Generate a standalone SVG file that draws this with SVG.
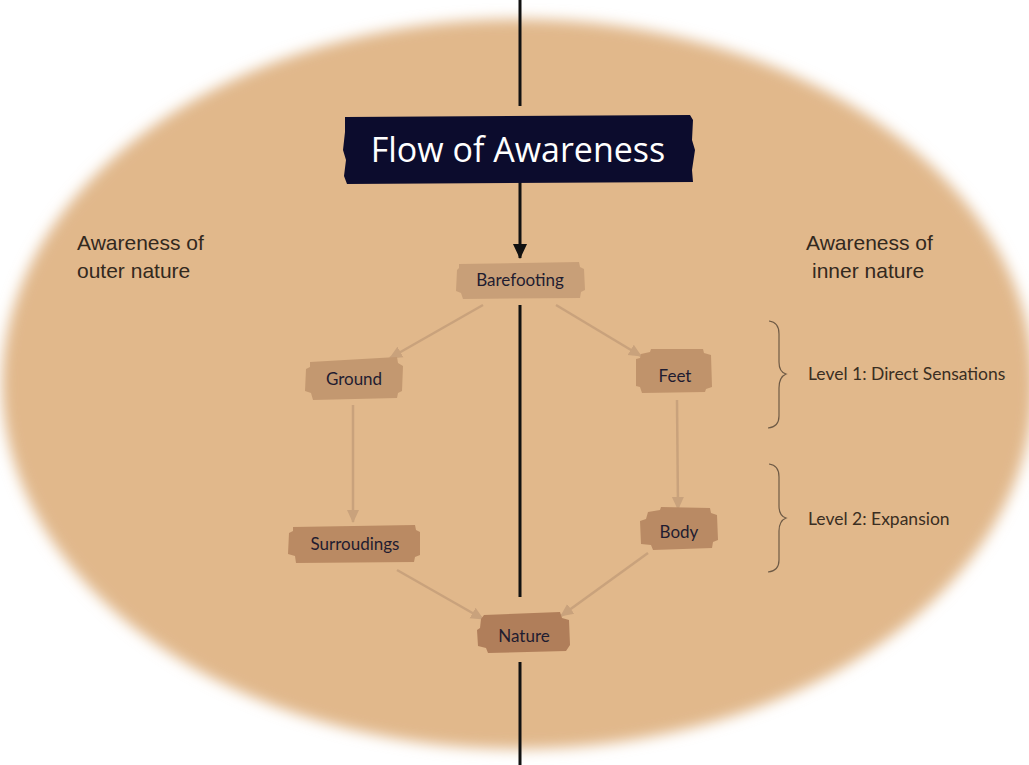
<svg xmlns="http://www.w3.org/2000/svg" width="1029" height="765" viewBox="0 0 1029 765">
<defs>
<filter id="soft" x="-5%" y="-5%" width="110%" height="110%"><feGaussianBlur stdDeviation="7"/></filter>
<marker id="ah" markerUnits="userSpaceOnUse" markerWidth="14" markerHeight="14" refX="12" refY="7" orient="auto"><path d="M0,1 L13,7 L0,13 Z" fill="#C9A27C"/></marker>
<marker id="ahk" markerUnits="userSpaceOnUse" markerWidth="16" markerHeight="16" refX="14" refY="8" orient="auto"><path d="M0,1 L15,8 L0,15 Z" fill="#111"/></marker>
<style>
.side{font-family:"Liberation Sans",Arial,sans-serif;font-size:21px;fill:#33291E}
.lvl{font-family:Lato,"Open Sans",sans-serif;font-size:17.5px;fill:#3A2E22}
.lbl{font-family:Lato,"Open Sans",sans-serif;font-size:17px;fill:#1F1C30;text-anchor:middle}
.edge{stroke:#C9A27C;stroke-width:2.5;fill:none;marker-end:url(#ah)}
.brace{stroke:#6E5A45;stroke-width:1.2;fill:none}
.axis{stroke:#111;stroke-width:3;fill:none}
</style>
</defs>
<rect width="1029" height="765" fill="#FFFFFF"/>
<ellipse cx="518" cy="384" rx="516" ry="365" fill="#E1B88B" filter="url(#soft)"/>

<g id="axis">
<line class="axis" x1="520" y1="0" x2="520" y2="106"/>
<line class="axis" x1="520" y1="305" x2="520" y2="597"/>
<line class="axis" x1="520" y1="662" x2="520" y2="765"/>
</g>

<g id="connectors">
<line x1="520" y1="167" x2="520" y2="258" stroke="#111" stroke-width="3" marker-end="url(#ahk)"/>
<line class="edge" x1="483" y1="305" x2="390" y2="358"/>
<line class="edge" x1="556" y1="305" x2="641" y2="356"/>
<line class="edge" x1="353" y1="405" x2="353" y2="522"/>
<line class="edge" x1="677" y1="400" x2="678" y2="509"/>
<line class="edge" x1="397" y1="570" x2="483" y2="619"/>
<line class="edge" x1="648" y1="553" x2="561" y2="616"/>
</g>

<g id="title">
<path d="M345,117 L690,115 L693,120 L692,140 L695,150 L692,170 L693,182 L347,184 L344,176 L346,160 L343,150 L345,132 Z" fill="#0C0C2D"/>
<text x="518" y="162" text-anchor="middle" font-family="'Open Sans',Lato,sans-serif" font-size="34" fill="#FFFFFF">Flow of Awareness</text>
</g>

<g id="n-barefooting">
<path d="M459,264 L579,262 L580,267 L584,269 L585,290 L581,292 L580,298 L463,299 L461,293 L456,291 L457,270 L459,268 Z" fill="#C89F78"/>
<text class="lbl" x="520" y="286">Barefooting</text>
</g>

<g id="n-ground">
<path d="M310,362 L397,357 L398,363 L403,366 L402,391 L398,393 L397,398 L313,400 L311,393 L305,391 L306,369 L310,367 Z" fill="#C39870"/>
<text class="lbl" x="354" y="385">Ground</text>
</g>

<g id="n-feet">
<path d="M641,354 L650,352 L651,349 L703,349 L704,353 L711,355 L712,387 L706,389 L705,392 L642,393 L640,387 L636,386 L636,359 L640,358 Z" fill="#C0936B"/>
<text class="lbl" x="675" y="382">Feet</text>
</g>

<g id="n-surroudings">
<path d="M293,527 L415,525 L416,530 L420,532 L420,555 L415,557 L414,562 L296,563 L295,556 L288,554 L289,533 L293,531 Z" fill="#BA8A63"/>
<text class="lbl" x="355" y="550">Surroudings</text>
</g>

<g id="n-body">
<path d="M648,512 L660,510 L661,507 L710,508 L711,513 L717,515 L718,540 L713,542 L712,548 L653,550 L651,545 L641,544 L640,521 L646,519 Z" fill="#B98A64"/>
<text class="lbl" x="679" y="538">Body</text>
</g>

<g id="n-nature">
<path d="M484,615 L560,612 L562,618 L569,620 L570,645 L566,651 L488,653 L486,648 L478,646 L477,630 L480,628 L481,619 Z" fill="#B07E5A"/>
<text class="lbl" x="524" y="642">Nature</text>
</g>

<g id="side-labels">
<text class="side" x="77" y="250">Awareness of</text>
<text class="side" x="77" y="278">outer nature</text>
<text class="side" x="806" y="250">Awareness of</text>
<text class="side" x="812" y="278">inner nature</text>
</g>

<g id="level1">
<path class="brace" d="M769,321 Q779,322 779,334 L779,362 Q779,372 786,374 Q779,377 779,388 L779,416 Q779,427 768,428"/>
<text class="lvl" x="808" y="380">Level 1: Direct Sensations</text>
</g>

<g id="level2">
<path class="brace" d="M769,464 Q779,465 779,477 L779,506 Q779,516 786,518 Q779,521 779,531 L779,560 Q779,571 768,572"/>
<text class="lvl" x="808" y="525">Level 2: Expansion</text>
</g>
</svg>
